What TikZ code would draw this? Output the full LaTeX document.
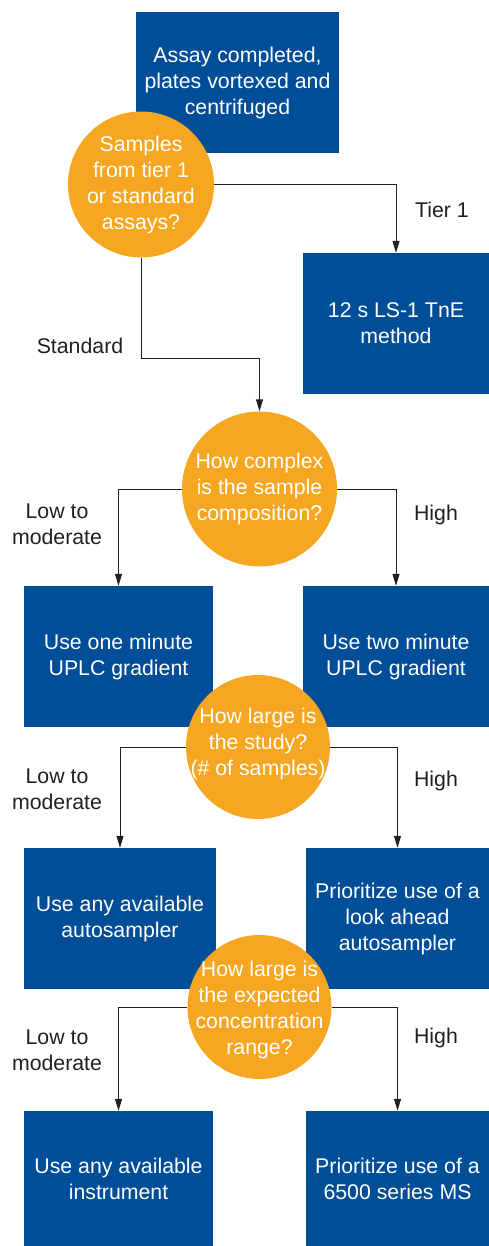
\documentclass[tikz,border=0pt]{standalone}
\usepackage{fontspec}
\setmainfont{Liberation Sans}
\usetikzlibrary{arrows.meta}
\definecolor{boxblue}{RGB}{0,77,152}
\definecolor{qorange}{RGB}{246,166,32}
\definecolor{ink}{RGB}{35,31,32}
\begin{document}
\begin{tikzpicture}[x=1pt,y=-1pt,
  txt/.style={font=\fontsize{21.3}{26}\selectfont},
  box/.style={txt, fill=boxblue, text=white, inner sep=0pt, align=center},
  q/.style={circle, fill=qorange, inner sep=0pt},
  qtext/.style={txt, text=white, align=center, inner sep=0pt},
  lbl/.style={txt, text=ink, align=center, inner sep=0pt},
  conn/.style={draw=ink, line width=1pt, -{Triangle[length=12pt,width=7pt]}}]
\useasboundingbox (0,0) rectangle (489,1246);

% boxes
\node[box, minimum width=203pt, minimum height=141pt] (start) at (237.5,82.5)
  {Assay completed,\\plates vortexed and\\centrifuged};
\node[box, minimum width=186pt, minimum height=141pt] (tier) at (396,323.5)
  {12 s LS-1 TnE\\method};
\node[box, minimum width=189pt, minimum height=141pt] (b2l) at (118.5,656.5)
  {Use one minute\\UPLC gradient};
\node[box, minimum width=186pt, minimum height=141pt] (b2r) at (396,656.5)
  {Use two minute\\UPLC gradient};
\node[box, minimum width=192pt, minimum height=141pt] (b3l) at (120,918.5)
  {Use any available\\autosampler};
\node[box, minimum width=183pt, minimum height=141pt] (b3r) at (397.5,918.5)
  {Prioritize use of a\\look ahead\\autosampler};
\node[box, minimum width=189pt, minimum height=135pt] (b4l) at (118.5,1178.5)
  {Use any available\\instrument};
\node[box, minimum width=183pt, minimum height=135pt] (b4r) at (397.5,1178.5)
  {Prioritize use of a\\6500 series MS};

% decision circles
\node[q, minimum size=146pt] (c1) at (141,184.5) {};
\node[qtext] (c1t) at (c1) {Samples\\from tier 1\\or standard\\assays?};
\node[q, minimum size=155pt] (c2) at (259.5,489) {};
\node[qtext] (c2t) at (c2) {How complex\\is the sample\\composition?};
\node[q, minimum size=144pt] (c3) at (258,747) {};
\node[qtext] (c3t) at (258,744) {How large is\\the study?\\(\# of samples)};
\node[q, minimum size=144pt] (c4) at (259.5,1007) {};
\node[qtext] (c4t) at (259.5,1010) {How large is\\the expected\\concentration\\range?};

% connectors
\coordinate (s1) at (141,358);
\draw[conn] (c1.east) -| (tier.north);
\draw[conn] (c1.south) -- (s1) -| (c2.north);
\draw[conn] (c2.west) -| (b2l.north);
\draw[conn] (c2.east) -| (b2r.north);
\draw[conn] (c3.west) -| (b3l.north);
\draw[conn] (c3.east) -| (b3r.north);
\draw[conn] (c4.west) -| (b4l.north);
\draw[conn] (c4.east) -| (b4r.north);

% labels
\node[lbl] (ltier) at (442,210) {Tier 1};
\node[lbl] (lstd) at (80,346) {Standard};
\node[lbl] (l2l) at (57,524) {Low to\\moderate};
\node[lbl] (l2r) at (436,515) {High};
\node[lbl] (l3l) at (57,789) {Low to\\moderate};
\node[lbl] (l3r) at (436,781) {High};
\node[lbl] (l4l) at (57,1050) {Low to\\moderate};
\node[lbl] (l4r) at (436,1038) {High};
\end{tikzpicture}
\end{document}
